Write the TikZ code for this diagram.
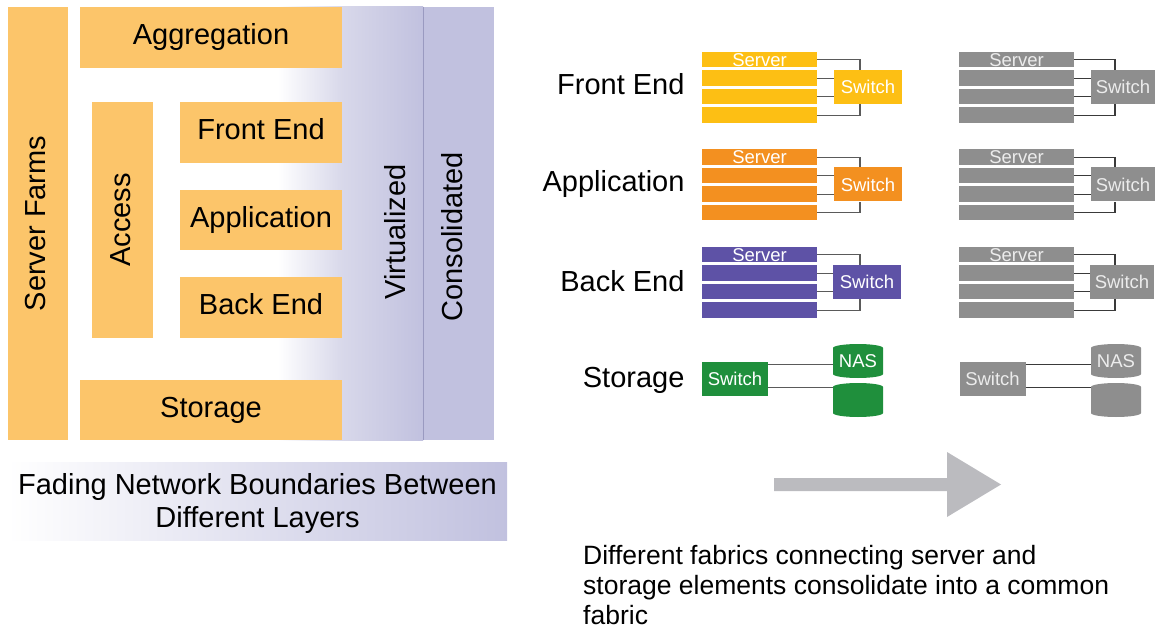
\documentclass[tikz,border=0pt]{standalone}
\usepackage{fontspec}
\setmainfont{Liberation Sans}
\usetikzlibrary{calc}

\definecolor{tierfill}{HTML}{FCC56A}
\definecolor{lavA}{HTML}{D8D8EA}
\definecolor{lavB}{HTML}{C1C1DF}
\definecolor{lavEdge}{HTML}{9A9AC0}
\definecolor{feY}{HTML}{FDBF14}
\definecolor{apO}{HTML}{F39020}
\definecolor{bePu}{HTML}{5E52A6}
\definecolor{stG}{HTML}{1F8F3C}
\definecolor{unitgray}{HTML}{8E8E8E}
\definecolor{unittext}{HTML}{ECECEC}
\definecolor{wirecol}{HTML}{5A5A5A}
\definecolor{wiredark}{HTML}{3A3A3A}
\definecolor{arrowgray}{HTML}{BBBBBF}

\newcommand\bigtext{\fontsize{29}{33}\selectfont}
\newcommand\smalltext{\fontsize{18.5}{20}\selectfont}
\newcommand\captext{\fontsize{26.5}{30}\selectfont}

\tikzset{
  tier/.style={fill=tierfill, inner sep=0pt, font=\bigtext, text height=21pt, text depth=6pt},
  rowbox/.style={inner sep=0pt, minimum width=115pt, minimum height=15.5pt, font=\smalltext},
  swbox/.style={inner sep=0pt, minimum height=34pt, font=\smalltext},
  wire/.style={line width=1.3pt},
  disk/.style={inner sep=0pt, minimum width=50pt, minimum height=34pt, font=\smalltext,
    path picture={
      \fill[#1] ([yshift=-4pt]path picture bounding box.north west)
        arc[start angle=180, end angle=0, x radius=25pt, y radius=4pt]
        -- ([yshift=4pt]path picture bounding box.south east)
        arc[start angle=0, end angle=-180, x radius=25pt, y radius=4pt] -- cycle;
    }},
  lab/.style={font=\bigtext, anchor=base east},
}

% server rack of four units wired to a switch
% #1 prefix, #2 left x, #3 top y, #4 fill, #5 text colour,
% #6 switch centre x, #7 switch width, #8 junction x, #9 wire colour
\newcommand\servergroup[9]{%
  \node[rowbox, fill=#4, text=#5] (#1r1) at (#2+57.5, #3+7.75) {Server};
  \node[rowbox, fill=#4] (#1r2) at (#2+57.5, #3+26.25) {};
  \node[rowbox, fill=#4] (#1r3) at (#2+57.5, #3+44.75) {};
  \node[rowbox, fill=#4] (#1r4) at (#2+57.5, #3+63.25) {};
  \node[swbox, fill=#4, text=#5, minimum width=#7] (#1sw) at (#6, #3+35) {Switch};
  \coordinate (#1j) at (#8, #3);
  \draw[wire, draw=#9] (#1r1.east) -| (#1sw.north -| #1j);
  \draw[wire, draw=#9] (#1r2.east) -- (#1r2.east -| #1sw.west);
  \draw[wire, draw=#9] (#1r3.east) -- (#1r3.east -| #1sw.west);
  \draw[wire, draw=#9] (#1r4.east) -| (#1sw.south -| #1j);
}

% storage switch wired to two disks
% #1 prefix, #2 switch centre x, #3 disk centre x, #4 fill, #5 text colour, #6 wire colour
\newcommand\storagegroup[6]{%
  \node[swbox, fill=#4, text=#5, minimum width=66pt] (#1sw) at (#2, 379) {Switch};
  \node[disk=#4, text=#5] (#1d1) at (#3, 361) {NAS};
  \node[disk=#4] (#1d2) at (#3, 400) {};
  \draw[wire, draw=#6] ($(#1sw.north east)+(0,3)$) coordinate (#1a) -- (#1a -| #1d1.west);
  \draw[wire, draw=#6] ($(#1sw.north east)+(0,26)$) coordinate (#1b) -- (#1b -| #1d2.west);
}

\begin{document}
\begin{tikzpicture}[x=1pt, y=-1pt]
\useasboundingbox (0,0) rectangle (1159,628);

% ---- layered data-centre view ----
\shade[left color=white, right color=lavA] (278,7) rectangle (342,440);
\shade[left color=lavA, right color=lavB] (342,7) rectangle (423,440);
\fill[lavB] (423,7) rectangle (494,440);
\draw[lavEdge, line width=1pt] (423,7) -- (423,440);

\node[tier, minimum width=433pt, minimum height=60pt, rotate=90] (farms) at (38,223.5) {Server Farms};
\node[tier, minimum width=262pt, minimum height=61pt] (agg) at (211,37.5) {Aggregation};
\node[tier, minimum width=236pt, minimum height=61pt, rotate=90] (access) at (122.5,220) {Access};
\node[tier, minimum width=162pt, minimum height=61pt] (front) at (261,132.5) {Front End};
\node[tier, minimum width=162pt, minimum height=60pt] (appl) at (261,220) {Application};
\node[tier, minimum width=162pt, minimum height=61pt] (back) at (261,307.5) {Back End};
\node[tier, minimum width=262pt, minimum height=60pt] (stor) at (211,410) {Storage};

\node[font=\bigtext, rotate=90, anchor=base] (virt) at (405,232) {Virtualized};
\node[font=\bigtext, rotate=90, anchor=base] (cons) at (462,237) {Consolidated};

\node[left color=white, right color=lavB, minimum width=499pt, minimum height=78pt,
      inner sep=0pt, align=center, font=\bigtext] (fadebox) at (257.5,501)
      {\rule{0pt}{27pt}Fading Network Boundaries Between\\Different Layers};

% ---- fabric consolidation view ----
\node[lab] (lfront) at (688,95) {Front End};
\node[lab] (lappl) at (688,192) {Application};
\node[lab] (lback) at (688,291) {Back End};
\node[lab] (lstor) at (688,387) {Storage};

\servergroup{fe}{702}{52}{feY}{white}{868}{68pt}{860}{wirecol}
\servergroup{ap}{702}{149.5}{apO}{white}{868}{68pt}{860}{wirecol}
\servergroup{be}{702}{247}{bePu}{white}{867}{68pt}{860}{wirecol}
\storagegroup{st}{735}{858}{stG}{white}{wirecol}

\servergroup{gfe}{959}{52}{unitgray}{unittext}{1123}{64pt}{1115}{wiredark}
\servergroup{gap}{959}{149.5}{unitgray}{unittext}{1123}{64pt}{1115}{wiredark}
\servergroup{gbe}{959}{247}{unitgray}{unittext}{1122}{64pt}{1115}{wiredark}
\storagegroup{gst}{992.5}{1116}{unitgray}{unittext}{wiredark}

\fill[arrowgray] (774,478) -- (947,478) -- (947,452) -- (1001,484.5)
  -- (947,517) -- (947,491) -- (774,491) -- cycle;

\node[font=\captext, align=left, anchor=north west, inner sep=0pt] (caption) at (583,545)
  {Different fabrics connecting server and\\storage elements consolidate into a common\\fabric};
\end{tikzpicture}
\end{document}
